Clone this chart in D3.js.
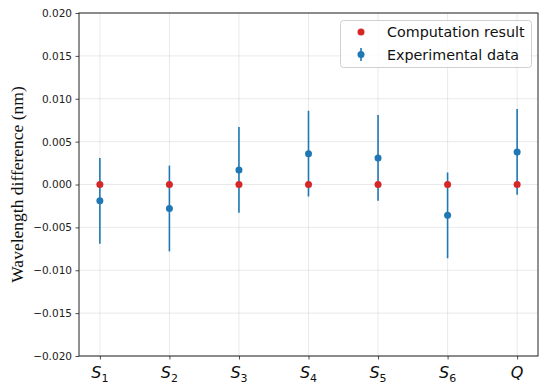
<!DOCTYPE html>
<html><head><meta charset="utf-8">
<script src="https://cdn.jsdelivr.net/npm/d3@7"></script>
<style>body{margin:0;background:#fff}svg{display:block}</style>
</head><body>
<svg id="c" width="550" height="386"></svg>
<script>
const categories = ["S1","S2","S3","S4","S5","S6","Q"];
const catBase = ["S","S","S","S","S","S","Q"];
const catSub = ["1","2","3","4","5","6",""];
const computed = [0,0,0,0,0,0,0];
const experimental = [-0.0019,-0.0028,0.0017,0.0036,0.0031,-0.0036,0.0038];
const errors = [0.005,0.005,0.005,0.005,0.005,0.005,0.005];
const yTicks = [-0.020,-0.015,-0.010,-0.005,0.000,0.005,0.010,0.015,0.020];

const svg = d3.select("#c");
const L=79, R=538, T=13, B=356;
const x = d3.scaleLinear().domain([-0.3, categories.length-1+0.3]).range([L,R]);
const y = d3.scaleLinear().domain([-0.02,0.02]).range([B,T]);
const blue="#1f77b4", red="#d62728";

// grid
const g = svg.append("g");
g.selectAll(".gx").data(categories).enter().append("line")
 .attr("x1",(d,i)=>x(i)).attr("x2",(d,i)=>x(i)).attr("y1",T).attr("y2",B)
 .attr("stroke","#b0b0b0").attr("stroke-opacity",0.35).attr("stroke-width",0.8);
g.selectAll(".gy").data(yTicks).enter().append("line")
 .attr("x1",L).attr("x2",R).attr("y1",d=>y(d)).attr("y2",d=>y(d))
 .attr("stroke","#b0b0b0").attr("stroke-opacity",0.35).attr("stroke-width",0.8);

// y axis
const yAxis = d3.axisLeft(y).tickValues(yTicks).tickFormat(d3.format(".3f")).tickSize(3.5).tickPadding(3.5);
const ya = svg.append("g").attr("transform",`translate(${L},0)`).call(yAxis);
ya.select(".domain").remove();
ya.selectAll("text").attr("font-family","DejaVu Sans").attr("font-size","10.5px").attr("fill","#222")
  .text(d=>d3.format(".3f")(d).replace("-","\u2212"));
ya.selectAll("line").attr("stroke","#222").attr("stroke-width",0.8);

// x axis
const xAxis = d3.axisBottom(x).tickValues(d3.range(categories.length)).tickFormat("").tickSize(3.5);
const xa = svg.append("g").attr("transform",`translate(0,${B})`).call(xAxis);
xa.select(".domain").remove();
xa.selectAll("line").attr("stroke","#222").attr("stroke-width",0.8);
categories.forEach((c,i)=>{
  const t = svg.append("text").attr("x",x(i)).attr("y",B+22).attr("text-anchor","middle")
    .attr("font-family","DejaVu Sans").attr("font-size","16px").attr("fill","#111");
  t.append("tspan").attr("font-style","italic").text(catBase[i]);
  if(catSub[i]) t.append("tspan").attr("font-size","11px").attr("dy",3.5).text(catSub[i]);
});

// frame
svg.append("rect").attr("x",L).attr("y",T).attr("width",R-L).attr("height",B-T)
 .attr("fill","none").attr("stroke","#222").attr("stroke-width",1);

// y label
svg.append("text").attr("transform",`translate(23,${(T+B)/2}) rotate(-90)`)
 .attr("text-anchor","middle").attr("font-family","Liberation Serif").attr("font-size","17.5px")
 .attr("fill","#111").text("Wavelength difference (nm)");

// error bars
svg.selectAll(".eb").data(experimental).enter().append("line")
 .attr("x1",(d,i)=>x(i)).attr("x2",(d,i)=>x(i))
 .attr("y1",(d,i)=>y(d+errors[i])).attr("y2",(d,i)=>y(d-errors[i]))
 .attr("stroke",blue).attr("stroke-width",1.6);
svg.selectAll(".ep").data(experimental).enter().append("circle")
 .attr("cx",(d,i)=>x(i)).attr("cy",d=>y(d)).attr("r",3.5).attr("fill",blue);
svg.selectAll(".cp").data(computed).enter().append("circle")
 .attr("cx",(d,i)=>x(i)).attr("cy",d=>y(d)).attr("r",3.5).attr("fill",red);

// legend
const lg = svg.append("g");
lg.append("rect").attr("x",340.5).attr("y",20.5).attr("width",191).attr("height",47).attr("rx",3)
 .attr("fill","#fff").attr("fill-opacity",0.8).attr("stroke","#d0d0d0").attr("stroke-width",1);
lg.append("circle").attr("cx",361).attr("cy",32).attr("r",3.5).attr("fill",red);
lg.append("line").attr("x1",361).attr("x2",361).attr("y1",48).attr("y2",61).attr("stroke",blue).attr("stroke-width",1.6);
lg.append("circle").attr("cx",361).attr("cy",54.5).attr("r",3.5).attr("fill",blue);
lg.append("text").attr("x",387).attr("y",37).attr("font-family","DejaVu Sans").attr("font-size","14.3px").attr("fill","#111").text("Computation result");
lg.append("text").attr("x",387).attr("y",59.5).attr("font-family","DejaVu Sans").attr("font-size","14.3px").attr("fill","#111").text("Experimental data");
</script>
</body></html>
